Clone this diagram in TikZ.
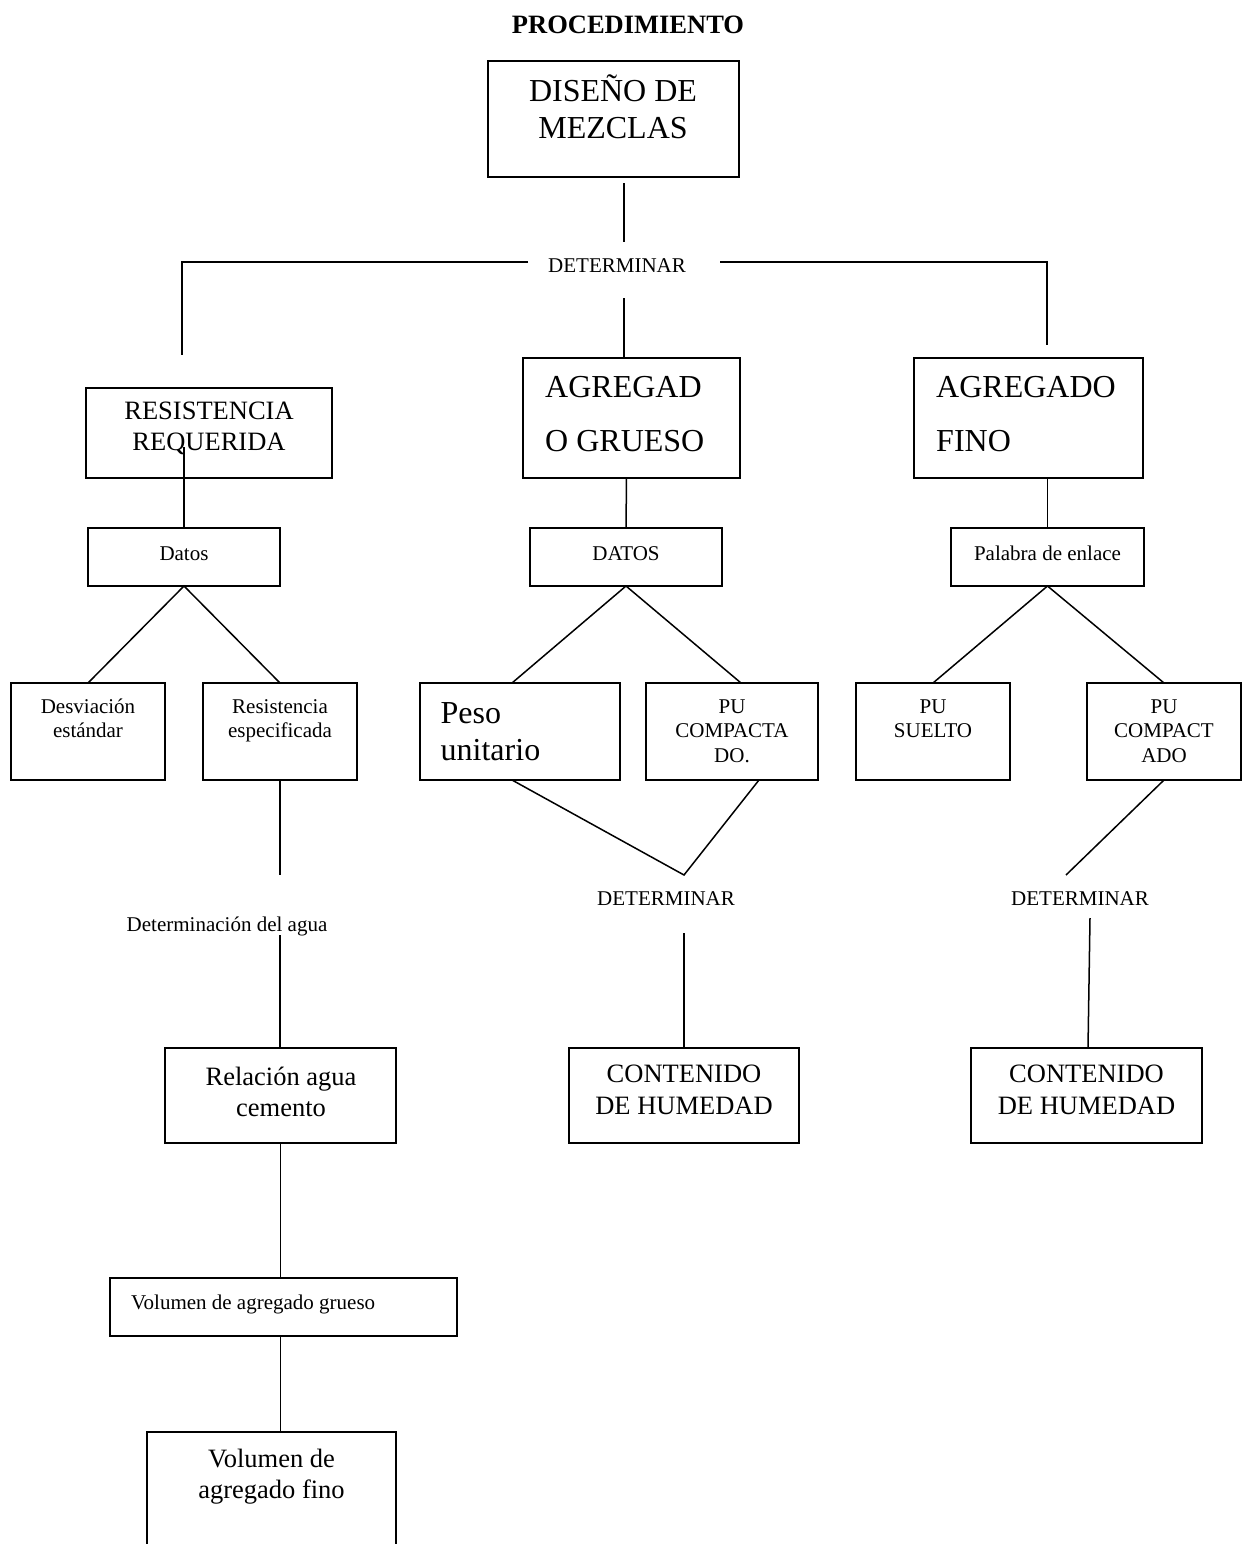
\documentclass[tikz,border=0pt]{standalone}
\usepackage{fontspec}
\setmainfont{Liberation Serif}
\begin{document}
\begin{tikzpicture}[x=1pt,y=-1pt,
  box/.style={draw, line width=1.8pt, inner sep=0pt, outer sep=0pt, anchor=north west},
  ln/.style={line width=1.5pt},
  sm/.style={font=\fontsize{21}{24.5}\selectfont, inner sep=0pt, anchor=base},
  md/.style={font=\fontsize{26.5}{31}\selectfont, inner sep=0pt, anchor=base},
  lg/.style={font=\fontsize{32}{36.5}\selectfont, inner sep=0pt, anchor=base},
  smw/.style={sm, anchor=base west},
  lgw/.style={lg, anchor=base west},
]
\useasboundingbox (0,0) rectangle (1250,1544);
\clip (0,0) rectangle (1250,1544);

% title
\node[md, font=\fontsize{26.5}{31}\selectfont\bfseries] (title) at (628,34) {PROCEDIMIENTO};

% top box
\node[box, minimum width=251, minimum height=116] (dis) at (488,61) {};
\node[lg] (dis1) at (613,102) {DISEÑO DE};
\node[lg] (dis2) at (613,138.5) {MEZCLAS};

% DETERMINAR split
\coordinate (c1) at (624,183);
\coordinate (c2) at (624,242);
\draw[ln] (c1) -- (c2);
\node[sm] (det1) at (617,272) {DETERMINAR};
\coordinate (hL) at (528,262);
\coordinate (hLL) at (182,262);
\coordinate (vL) at (182,355);
\coordinate (hR) at (720,262);
\coordinate (hRR) at (1047,262);
\coordinate (vR) at (1047,345);
\coordinate (c3) at (624,298);
\draw[ln] (hL) -- (hLL) -- (vL);
\draw[ln] (hR) -- (hRR) -- (vR);

% second row boxes
\node[box, minimum width=246, minimum height=90] (res) at (86,388) {};
\node[md] (res1) at (209,419) {RESISTENCIA};
\node[md] (res2) at (209,450) {REQUERIDA};

\node[box, minimum width=217, minimum height=120] (agr) at (523,358) {};
\node[lgw] (agr1) at (545,397) {AGREGAD};
\node[lgw] (agr2) at (545,451) {O GRUESO};

\node[box, minimum width=229, minimum height=120] (fin) at (914,358) {};
\node[lgw] (fin1) at (936,397) {AGREGADO};
\node[lgw] (fin2) at (936,451) {FINO};

\draw[ln] (c3) -- (c3 |- agr.north);

% data boxes
\node[box, minimum width=192, minimum height=58] (dat1) at (88,528) {};
\node[sm] (dat1t) at (184,560) {Datos};
\node[box, minimum width=192, minimum height=58] (dat2) at (530,528) {};
\node[sm] (dat2t) at (626,560) {DATOS};
\node[box, minimum width=193, minimum height=58] (dat3) at (951,528) {};
\node[sm] (dat3t) at (1047.5,560) {Palabra de enlace};

\coordinate (rq) at (184,447);
\draw[ln] (rq) -- (rq |- dat1.north);
\draw[ln] ([xshift=-5]agr.south) -- (dat2.north);
\draw[ln] (dat3.north |- fin.south) -- (dat3.north);

% third row boxes
\node[box, minimum width=154, minimum height=97] (desv) at (11,683) {};
\node[sm] (desv1) at (88,713) {Desviación};
\node[sm] (desv2) at (88,737.5) {estándar};
\node[box, minimum width=154, minimum height=97] (resp) at (203,683) {};
\node[sm] (resp1) at (280,713) {Resistencia};
\node[sm] (resp2) at (280,737.5) {especificada};

\node[box, minimum width=200, minimum height=97] (peso) at (420,683) {};
\node[lgw] (peso1) at (440.5,723.5) {Peso};
\node[lgw] (peso2) at (440.5,760) {unitario};
\node[box, minimum width=172, minimum height=97] (puc) at (646,683) {};
\node[sm] (puc1) at (732,713) {PU};
\node[sm] (puc2) at (732,737.5) {COMPACTA};
\node[sm] (puc3) at (732,762) {DO.};

\node[box, minimum width=154, minimum height=97] (pus) at (856,683) {};
\node[sm] (pus1) at (933,713) {PU};
\node[sm] (pus2) at (933,737.5) {SUELTO};
\node[box, minimum width=154, minimum height=97] (puca) at (1087,683) {};
\node[sm] (puca1) at (1164,713) {PU};
\node[sm] (puca2) at (1164,737.5) {COMPACT};
\node[sm] (puca3) at (1164,762) {ADO};

\draw[ln] (desv.north) -- (dat1.south) -- (resp.north);
\draw[ln] ([xshift=-8]peso.north) -- (dat2.south) -- ([xshift=9]puc.north);
\draw[ln] (pus.north) -- (dat3.south) -- (puca.north);

% middle determinar
\coordinate (v1) at (684,875);
\draw[ln] ([xshift=-8]peso.south) -- (v1) -- ([xshift=27]puc.south);
\node[sm] (det2) at (666,905) {DETERMINAR};
\node[box, minimum width=230, minimum height=95] (con1) at (569,1048) {};
\node[md] (con11) at (684,1082.5) {CONTENIDO};
\node[md] (con12) at (684,1114) {DE HUMEDAD};
\coordinate (c4) at (684,933);
\draw[ln] (c4) -- (con1.north);

% right determinar
\coordinate (v2) at (1066,875);
\draw[ln] (puca.south) -- (v2);
\node[sm] (det3) at (1080,905) {DETERMINAR};
\node[box, minimum width=231, minimum height=95] (con2) at (971,1048) {};
\node[md] (con21) at (1086.5,1082.5) {CONTENIDO};
\node[md] (con22) at (1086.5,1114) {DE HUMEDAD};
\coordinate (c5) at (1090,918);
\draw[ln] (c5) -- ([xshift=1.5]con2.north);

% left column
\coordinate (c6) at (280,875);
\draw[ln] (resp.south) -- (c6);
\node[sm] (agua) at (227,931) {Determinación del agua};
\coordinate (c7) at (280,935);
\node[box, minimum width=231, minimum height=95] (rel) at (165,1048) {};
\node[md] (rel1) at (281,1085) {Relación agua};
\node[md] (rel2) at (281,1116) {cemento};
\draw[ln] (c7) -- (c7 |- rel.north);

\node[box, minimum width=347, minimum height=58] (vg) at (110,1278) {};
\node[smw] (vgt) at (131,1309) {Volumen de agregado grueso};
\draw[ln] (rel.south) -- (rel.south |- vg.north);

\node[box, minimum width=249, minimum height=140] (vf) at (147,1432) {};
\node[md] (vf1) at (271.5,1467.5) {Volumen de};
\node[md] (vf2) at (271.5,1498.5) {agregado fino};
\draw[ln] (rel.south |- vg.south) -- (rel.south |- vf.north);
\end{tikzpicture}
\end{document}
